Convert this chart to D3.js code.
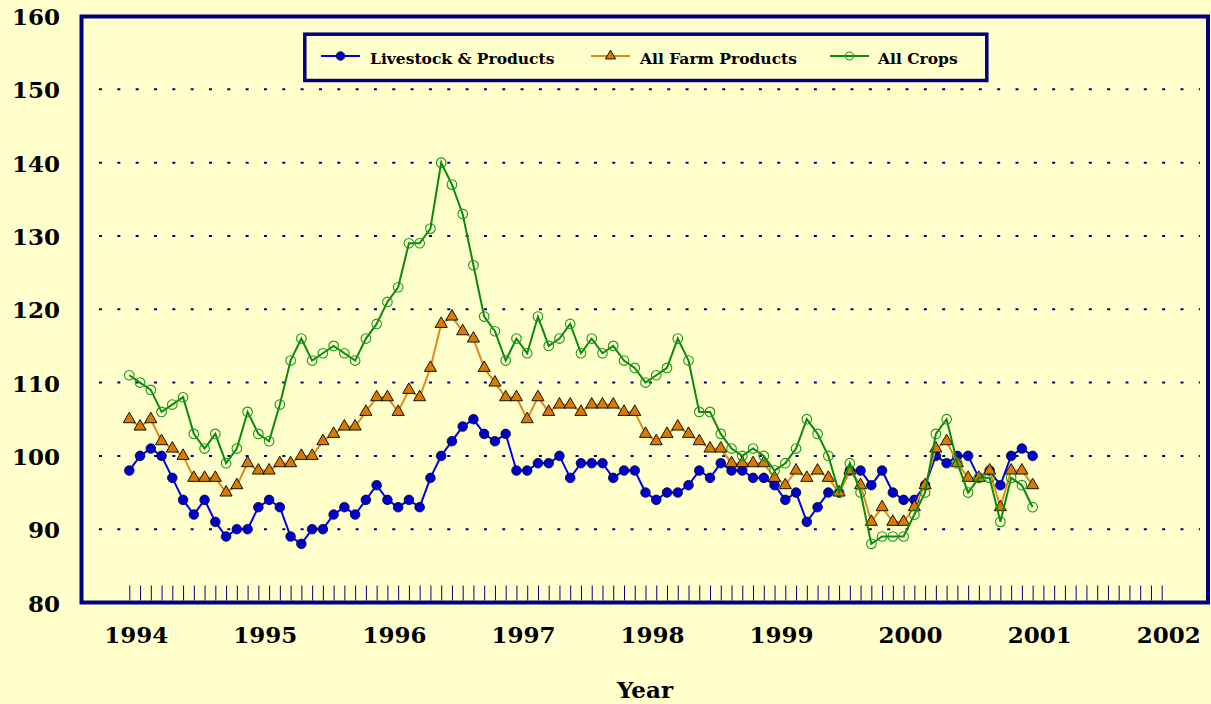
<!DOCTYPE html>
<html>
<head>
<meta charset="utf-8">
<script src="https://cdn.jsdelivr.net/npm/d3@7"></script>
<style>
  html, body { margin: 0; padding: 0; background: #FFFFCC; }
  svg { display: block; }
  text { font-family: "DejaVu Serif", "Liberation Serif", serif; font-weight: bold; fill: #000; }
</style>
</head>
<body>
<svg id="chart" width="1211" height="704"></svg>
<script>
// ---- Data (monthly index values, Jan 1994 – Jan 2001) ----
const yearLabels = ["1994","1995","1996","1997","1998","1999","2000","2001","2002"];
const yTicks = [80, 90, 100, 110, 120, 130, 140, 150, 160];
const seriesNames = ["Livestock & Products", "All Farm Products", "All Crops"];

const livestock = [
  98,100,101,100,97,94,92,94,91,89,90,90,
  93,94,93,89,88,90,90,92,93,92,94,96,
  94,93,94,93,97,100,102,104,105,103,102,103,
  98,98,99,99,100,97,99,99,99,97,98,98,
  95,94,95,95,96,98,97,99,98,98,97,97,
  96,94,95,91,93,95,95,98,98,96,98,95,
  94,94,96,100,99,100,100,97,98,96,100,101,
  100
];
const farmProducts = [
  105,104,105,102,101,100,97,97,97,95,96,99,
  98,98,99,99,100,100,102,103,104,104,106,108,
  108,106,109,108,112,118,119,117,116,112,110,108,
  108,105,108,106,107,107,106,107,107,107,106,106,
  103,102,103,104,103,102,101,101,99,99,99,99,
  97,96,98,97,98,97,95,98,96,91,93,91,
  91,93,96,101,102,99,97,97,98,93,98,98,
  96
];
const crops = [
  111,110,109,106,107,108,103,101,103,99,101,106,
  103,102,107,113,116,113,114,115,114,113,116,118,
  121,123,129,129,131,140,137,133,126,119,117,113,
  116,114,119,115,116,118,114,116,114,115,113,112,
  110,111,112,116,113,106,106,103,101,100,101,100,
  98,99,101,105,103,100,95,99,95,88,89,89,
  89,92,95,103,105,99,95,97,97,91,97,96,
  93
];

// ---- Layout ----
const W = 1211, H = 704;
const frame = { left: 81.5, right: 1208, top: 16.5, bottom: 602.5 };
const nMonths = (yearLabels.length - 1) * 12; // 96

const svg = d3.select("#chart");
svg.append("rect").attr("width", W).attr("height", H).attr("fill", "#FFFFCC");

const x = d3.scaleLinear().domain([0, nMonths]).range([129.3, 1161.7]);
const y = d3.scaleLinear().domain([80, 160]).range([602.5, 16]);

// Gridlines (dotted)
svg.append("g")
  .selectAll("line")
  .data(yTicks.filter(v => v > 80 && v < 160))
  .join("line")
  .attr("x1", 99).attr("x2", 1200)
  .attr("y1", d => y(d)).attr("y2", d => y(d))
  .attr("stroke", "#000080")
  .attr("stroke-width", 2)
  .attr("stroke-dasharray", "3 15.33");

// Monthly tick marks (pointing up from bottom frame)
const xTickAxis = d3.axisTop(x).tickValues(d3.range(nMonths + 1)).tickSize(15).tickFormat("");
const gxt = svg.append("g").attr("transform", `translate(0,${frame.bottom - 2})`).call(xTickAxis);
gxt.select(".domain").remove();
gxt.selectAll(".tick line").attr("stroke", "#000080").attr("stroke-width", 1);

// Year labels
const xLabAxis = d3.axisBottom(x)
  .tickValues(yearLabels.map((_, i) => i * 12))
  .tickFormat((d) => yearLabels[d / 12])
  .tickSize(0).tickPadding(0);
const gxl = svg.append("g").attr("transform", `translate(6.5,${frame.bottom + 32})`).call(xLabAxis);
gxl.select(".domain").remove();
gxl.selectAll("text")
  .attr("dy", null).attr("y", 0)
  .attr("dominant-baseline", "central")
  .style("font-family", '"DejaVu Serif", serif')
  .style("font-weight", "bold")
  .style("font-size", "23px")
  .attr("fill", "#000");

// Y labels
const yAxis = d3.axisLeft(y).tickValues(yTicks).tickSize(0).tickPadding(0);
const gy = svg.append("g").attr("transform", "translate(60,0)").call(yAxis);
gy.select(".domain").remove();
gy.selectAll("text")
  .attr("dy", null).attr("x", 0)
  .attr("dominant-baseline", "central")
  .style("font-family", '"DejaVu Serif", serif')
  .style("font-weight", "bold")
  .style("font-size", "23px")
  .attr("fill", "#000");

// Axis title
svg.append("text")
  .attr("x", 645).attr("y", 689)
  .attr("text-anchor", "middle")
  .attr("dominant-baseline", "central")
  .style("font-size", "23px")
  .text("Year");

// Frame
svg.append("rect")
  .attr("x", frame.left).attr("y", frame.top)
  .attr("width", frame.right - frame.left)
  .attr("height", frame.bottom - frame.top)
  .attr("fill", "none")
  .attr("stroke", "#000080")
  .attr("stroke-width", 4);

// ---- Series ----
const line = d3.line().x((d, i) => x(i)).y(d => y(d));
const triPath = d3.symbol(d3.symbolTriangle, 64)();

// Livestock
svg.append("path").datum(livestock).attr("d", line)
  .attr("fill", "none").attr("stroke", "#0000EE").attr("stroke-width", 2);
svg.append("g").selectAll("circle").data(livestock).join("circle")
  .attr("cx", (d, i) => x(i)).attr("cy", d => y(d)).attr("r", 4.8)
  .attr("fill", "#0000CC").attr("stroke", "#000033").attr("stroke-width", 0.8);

// All Farm Products
svg.append("path").datum(farmProducts).attr("d", line)
  .attr("fill", "none").attr("stroke", "#E08A1E").attr("stroke-width", 2);
svg.append("g").selectAll("path").data(farmProducts).join("path")
  .attr("d", triPath)
  .attr("transform", (d, i) => `translate(${x(i)},${y(d)})`)
  .attr("fill", "#D97B00").attr("stroke", "#000").attr("stroke-width", 0.9);

// All Crops
svg.append("path").datum(crops).attr("d", line)
  .attr("fill", "none").attr("stroke", "#0A8A0A").attr("stroke-width", 2);
svg.append("g").selectAll("circle").data(crops).join("circle")
  .attr("cx", (d, i) => x(i)).attr("cy", d => y(d)).attr("r", 4.8)
  .attr("fill", "none").attr("stroke", "#1A961A").attr("stroke-width", 1.1);

// ---- Legend ----
const lg = svg.append("g");
lg.append("rect").attr("x", 304.8).attr("y", 34.2).attr("width", 682).attr("height", 46.3)
  .attr("fill", "#FFFFCC").attr("stroke", "#000080").attr("stroke-width", 3.5);

const legendItems = [
  { name: seriesNames[0], x0: 321, tx: 370, color: "#0000EE", type: "dot" },
  { name: seriesNames[1], x0: 591, tx: 640, color: "#E08A1E", type: "tri" },
  { name: seriesNames[2], x0: 830, tx: 878, color: "#0A8A0A", type: "ring" }
];
const ly = 56;
legendItems.forEach(it => {
  lg.append("line").attr("x1", it.x0).attr("x2", it.x0 + 39).attr("y1", ly).attr("y2", ly)
    .attr("stroke", it.color).attr("stroke-width", 2);
  const cx = it.x0 + 19.5;
  if (it.type === "dot") {
    lg.append("circle").attr("cx", cx).attr("cy", ly).attr("r", 4.3)
      .attr("fill", "#0000CC").attr("stroke", "#000033").attr("stroke-width", 0.8);
  } else if (it.type === "tri") {
    lg.append("path").attr("d", d3.symbol(d3.symbolTriangle, 45)())
      .attr("transform", `translate(${cx},${ly})`)
      .attr("fill", "#D97B00").attr("stroke", "#000").attr("stroke-width", 0.9);
  } else {
    lg.append("circle").attr("cx", cx).attr("cy", ly).attr("r", 4)
      .attr("fill", "none").attr("stroke", "#1A961A").attr("stroke-width", 1.1);
  }
  lg.append("text").attr("x", it.tx).attr("y", 64)
    .style("font-size", "15.5px")
    .text(it.name);
});
</script>
</body>
</html>
